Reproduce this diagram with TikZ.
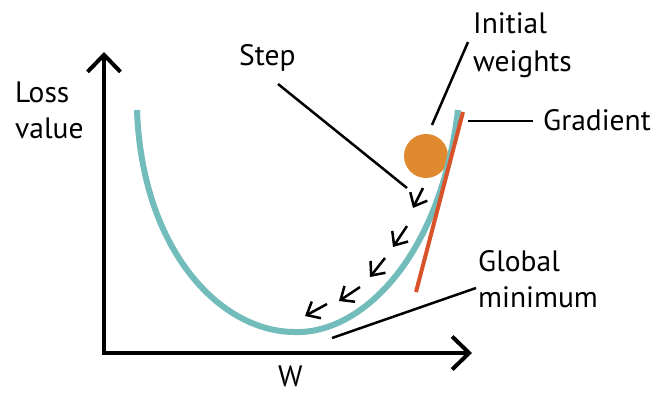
\documentclass[tikz,border=0pt]{standalone}
\usepackage{fontspec}
\setmainfont{PT Sans}
\usetikzlibrary{arrows.meta}
\definecolor{curveteal}{HTML}{72BCBB}
\definecolor{ballorange}{HTML}{E08A30}
\definecolor{gradred}{HTML}{D9532A}
\begin{document}
\begin{tikzpicture}[x=1pt,y=-1pt,
  lbl/.style={inner sep=0pt,anchor=base west,align=left,font=\fontsize{29.5}{36}\selectfont},
  axis/.style={line width=4pt,-{Straight Barb[length=17pt,width=33pt]}},
  pointer/.style={line width=2.5pt},
  stepar/.style={line width=2.5pt,-{Straight Barb[length=11pt,width=19pt]}}]
\useasboundingbox (0,0) rectangle (658,392);
% axes
\coordinate (O) at (104,353);
\coordinate (ytop) at (104,52);
\coordinate (xend) at (472,353);
\draw[axis] ([yshift=-2pt]O) -- (ytop);
\draw[axis] ([xshift=-2pt]O) -- (xend);
% ball
\node[circle,fill=ballorange,minimum size=44pt,inner sep=0pt] (ball) at (426,156) {};
% loss curve
\coordinate (cl) at (137,110);
\coordinate (cmin) at (295,332);
\coordinate (cr) at (458,110);
\draw[curveteal,line width=6pt] (cl) .. controls (142,250) and (220,332) .. (cmin)
  .. controls (360,334) and (440,260) .. (cr);
% gradient line
\coordinate (g1) at (463,112);
\coordinate (g2) at (416,292);
\draw[gradred,line width=4pt] (g1) -- (g2);
% labels (multi-line labels anchored at the baseline of their last line)
\node[lbl] (loss) at (15,138) {Loss\\value};
\node[lbl] (step) at (239,65) {Step};
\node[lbl,font=\fontsize{29.5}{38}\selectfont] (init) at (473,71) {Initial\\weights};
\node[lbl] (grad) at (543,130) {Gradient};
\node[lbl] (glob) at (478,307) {Global\\minimum};
\node[lbl] (w) at (278,386) {W};
% pointers
\coordinate (sp1) at (278,84);
\coordinate (sp2) at (407,188);
\draw[pointer] (sp1) -- (sp2);
\coordinate (ip1) at (468,42);
\coordinate (ip2) at (432,125);
\draw[pointer] (ip1) -- (ip2);
\coordinate (gp1) at (468,121);
\coordinate (gp2) at (533,121);
\draw[pointer] (gp1) -- (gp2);
\coordinate (mp1) at (476,288);
\coordinate (mp2) at (332,338);
\draw[pointer] (mp1) -- (mp2);
% step arrows
\coordinate (a1s) at (423,188); \coordinate (a1e) at (413,208);
\coordinate (a2s) at (407,226); \coordinate (a2e) at (393,247);
\coordinate (a3s) at (385,258); \coordinate (a3e) at (370,277);
\coordinate (a4s) at (360,287); \coordinate (a4e) at (339,301);
\coordinate (a5s) at (327,304); \coordinate (a5e) at (305,316);
\draw[stepar] (a1s) -- (a1e);
\draw[stepar] (a2s) -- (a2e);
\draw[stepar] (a3s) -- (a3e);
\draw[stepar] (a4s) -- (a4e);
\draw[stepar] (a5s) -- (a5e);
\end{tikzpicture}
\end{document}
